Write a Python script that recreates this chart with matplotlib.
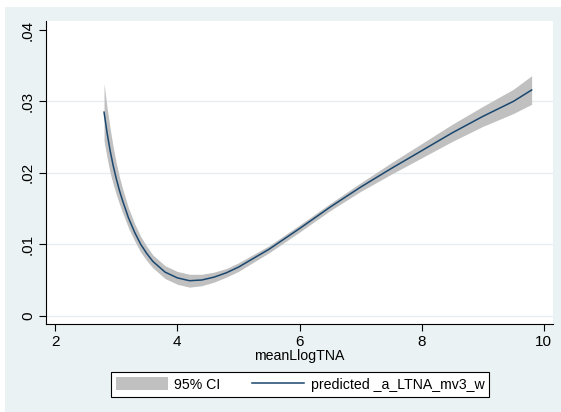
import matplotlib
matplotlib.use("Agg")
import matplotlib.pyplot as plt
from matplotlib.patches import Rectangle, Patch
from matplotlib.lines import Line2D

plt.rcParams['font.family'] = ['Liberation Sans', 'DejaVu Sans']

# ── data (adjusted prediction with 95% CI) ────────────────────────────────────
mean_llog_tna = [2.8, 2.85, 2.9, 2.95, 3.0, 3.05, 3.1, 3.2, 3.3, 3.4, 3.5, 3.6,
                 3.8, 4.0, 4.2, 4.4, 4.6, 4.8, 5.0, 5.5, 6.0, 6.5, 7.0, 7.5,
                 8.0, 8.5, 9.0, 9.5, 9.8]
predicted = [0.0285, 0.0256, 0.0231, 0.0210, 0.0192, 0.0176, 0.0162, 0.0137,
             0.0117, 0.0100, 0.0087, 0.0076, 0.0061, 0.0053, 0.0049, 0.0050,
             0.0054, 0.0060, 0.0068, 0.0093, 0.0122, 0.0152, 0.0180, 0.0206,
             0.0231, 0.0256, 0.0279, 0.0300, 0.0316]
ci_low = [0.0245, 0.0221, 0.0200, 0.0184, 0.0170, 0.0157, 0.0145, 0.0123,
          0.0105, 0.0089, 0.0077, 0.0067, 0.0052, 0.0044, 0.0040, 0.0042,
          0.0047, 0.0054, 0.0062, 0.0088, 0.0117, 0.0147, 0.0174, 0.0198,
          0.0221, 0.0244, 0.0265, 0.0283, 0.0296]
ci_high = [0.0325, 0.0291, 0.0262, 0.0236, 0.0214, 0.0195, 0.0179, 0.0151,
           0.0129, 0.0111, 0.0097, 0.0085, 0.0070, 0.0062, 0.0058, 0.0058,
           0.0061, 0.0066, 0.0074, 0.0098, 0.0127, 0.0157, 0.0186, 0.0214,
           0.0241, 0.0268, 0.0293, 0.0317, 0.0336]

x_ticks = [2, 4, 6, 8, 10]
y_ticks = [0, 0.01, 0.02, 0.03, 0.04]
y_tick_labels = ['0', '.01', '.02', '.03', '.04']

# ── Stata s2color look ───────────────────────────────────────────────────────
line_color = '#1a476f'
band_color = '#c0c0c0'
region_color = '#eaf2f3'
grid_color = '#e6eef0'

fig = plt.figure(figsize=(5.61, 4.12), dpi=100, facecolor='white')
fig.patches.append(Rectangle((5 / 561, 0), 556 / 561, 405 / 412,
                             transform=fig.transFigure, facecolor=region_color,
                             edgecolor='none', zorder=-10))

ax = fig.add_axes([46 / 561, 88 / 412, 507 / 561, 303 / 412])
ax.set_facecolor('white')

for yt in y_ticks[:-1]:
    ax.axhline(yt, color=grid_color, lw=1.0, zorder=1)

ax.fill_between(mean_llog_tna, ci_low, ci_high, color=band_color, lw=0,
                zorder=2)
ax.plot(mean_llog_tna, predicted, color=line_color, lw=1.1, zorder=3)

ax.set_xlim(1.85, 10.15)
ax.set_ylim(-0.00116, 0.04126)
ax.set_xticks(x_ticks)
ax.set_yticks(y_ticks)
ax.set_yticklabels(y_tick_labels, rotation=90, va='center')

for side in ('top', 'right'):
    ax.spines[side].set_visible(False)
for side in ('left', 'bottom'):
    ax.spines[side].set_linewidth(0.8)
ax.tick_params(direction='out', length=5, width=0.8, labelsize=11,
               colors='black')
ax.tick_params(axis='y', pad=3)
ax.tick_params(axis='x', pad=3)
ax.set_xlabel('meanLlogTNA', fontsize=10.2, labelpad=0)

handles = [Patch(facecolor=band_color, edgecolor='none'),
           Line2D([], [], color=line_color, lw=1.1)]
leg = fig.legend(handles, ['95% CI', 'predicted _a_LTNA_mv3_w'], ncol=2,
                 loc='center', bbox_to_anchor=(300 / 561, 27.5 / 412),
                 frameon=True, fancybox=False, edgecolor='black',
                 facecolor='white', fontsize=10.2, handlelength=3.7,
                 handleheight=1.0, columnspacing=2.2, borderpad=0.35,
                 handletextpad=0.45)
leg.get_frame().set_linewidth(0.8)
leg.get_frame().set_alpha(None)

fig.savefig('out.png', dpi=100, facecolor='white')
